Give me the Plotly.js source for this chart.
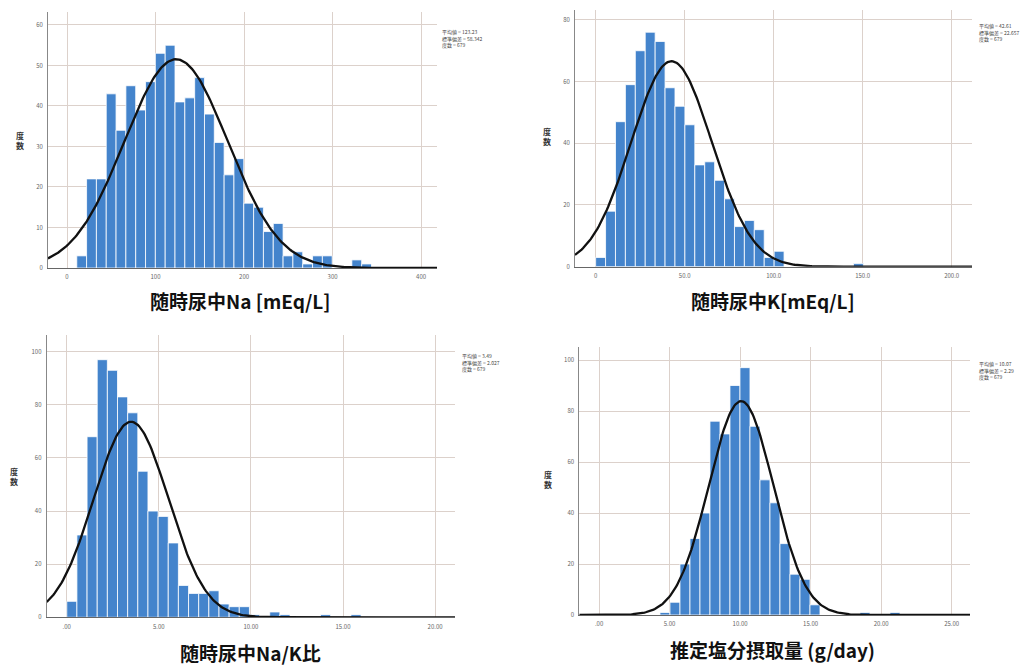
<!DOCTYPE html>
<html><head><meta charset="utf-8">
<script src="https://cdn.plot.ly/plotly-3.0.1.min.js"></script>
<style>html,body{margin:0;padding:0;background:#fff}#chart{width:1036px;height:666px}</style>
</head><body><div id="chart"></div>
<script>
// ---------- data ----------
const statLabels = ['平均値', '標準偏差', '度数'];

// 随時尿中Na
const naCounts = [3,22,22,43,34,45,39,46,53,55,41,42,47,38,31,23,27,16,15,9,11,3,4,1,3,3,0,0,2,1];
const naBin = [11, 11.1];            // [first bin edge, bin width]
const naStats = [123.23, 58.342, 679];
const naStatText = ['123.23', '58.342', '679'];
const naTicks = [0, 100, 200, 300, 400];
const naTickText = ['0', '100', '200', '300', '400'];
const naTitle = '随時尿中Na [mEq/L]';

// 随時尿中K
const kCounts = [3,18,47,59,70,76,73,58,52,46,33,34,28,22,13,15,12,3,5,0,0,0,0,0,0,0,1];
const kBin = [0, 5.57];
const kStats = [42.61, 22.657, 679];
const kStatText = ['42.61', '22.657', '679'];
const kTicks = [0, 50, 100, 150, 200];
const kTickText = ['0', '50.0', '100.0', '150.0', '200.0'];
const kTitle = '随時尿中K[mEq/L]';

// 随時尿中Na/K比
const nkCounts = [6,31,68,97,93,83,77,55,40,38,28,12,9,9,10,5,4,4,1,0,2,1,0,0,0,1,0,0,1];
const nkBin = [0, 0.551];
const nkStats = [3.49, 2.027, 679];
const nkStatText = ['3.49', '2.027', '679'];
const nkTicks = [0, 5, 10, 15, 20];
const nkTickText = ['.00', '5.00', '10.00', '15.00', '20.00'];
const nkTitle = '随時尿中Na/K比';

// 推定塩分摂取量
const saltCounts = [1,5,20,30,40,76,71,90,97,74,53,44,28,16,14,4,0,0,0,0,1,0,0,1];
const saltBin = [4.32, 0.709];
const saltStats = [10.07, 2.29, 679];
const saltStatText = ['10.07', '2.29', '679'];
const saltTicks = [0, 5, 10, 15, 20, 25];
const saltTickText = ['.00', '5.00', '10.00', '15.00', '20.00', '25.00'];
const saltTitle = '推定塩分摂取量 (g/day)';

const yTitle = '度<br>数';

// ---------- layout geometry (pixels in a 1036x666 page) ----------
const W = 1036, H = 666;
const panels = [
  {counts: naCounts, bin: naBin, stats: naStats, st: naStatText, tv: naTicks, tt: naTickText, title: naTitle,
   px: [48, 437], py: [12, 268], xr: [-21.5, 418], yr: [0, 63.2], dt: 10,
   titlePos: [240, 300], yTitlePos: [20, 140], statPos: [440, 26]},
  {counts: kCounts, bin: kBin, stats: kStats, st: kStatText, tv: kTicks, tt: kTickText, title: kTitle,
   px: [575, 972], py: [10, 266.7], xr: [-11.6, 211.4], yr: [0, 83.2], dt: 20,
   titlePos: [773, 300], yTitlePos: [547, 137], statPos: [977, 20]},
  {counts: nkCounts, bin: nkBin, stats: nkStats, st: nkStatText, tv: nkTicks, tt: nkTickText, title: nkTitle,
   px: [46.7, 455], py: [335, 617.3], xr: [-1.09, 21.08], yr: [0, 106.3], dt: 20,
   titlePos: [250, 652], yTitlePos: [14, 476], statPos: [460, 350]},
  {counts: saltCounts, bin: saltBin, stats: saltStats, st: saltStatText, tv: saltTicks, tt: saltTickText, title: saltTitle,
   px: [579.3, 970], py: [347, 615], xr: [-1.4, 26.3], yr: [0, 105.1], dt: 20,
   titlePos: [772, 649], yTitlePos: [548, 479], statPos: [977, 358]}
];

const FONT = '"Noto Sans CJK JP", "Noto Sans", sans-serif';
const BAR = 'rgb(68,132,204)';
const GRID = '#dcd1cb';

const traces = [];
const layout = {
  width: W, height: H, margin: {l: 0, r: 0, t: 0, b: 0},
  paper_bgcolor: '#fff', plot_bgcolor: '#fff', showlegend: false,
  font: {family: FONT}, annotations: []
};

panels.forEach((p, i) => {
  const s = i === 0 ? '' : String(i + 1);
  const xa = 'x' + s, ya = 'y' + s;
  const x0 = p.bin[0], w = p.bin[1];
  const centers = p.counts.map((_, k) => x0 + (k + 0.5) * w);
  traces.push({
    type: 'bar', x: centers, y: p.counts, width: w, xaxis: xa, yaxis: ya,
    marker: {color: BAR, line: {color: '#ffffff', width: 0.8}}, hoverinfo: 'x+y'
  });
  // normal curve from the stated mean / sd / n
  const mean = p.stats[0], sd = p.stats[1], n = p.stats[2];
  const cx = [], cy = [];
  const steps = 300;
  for (let k = 0; k <= steps; k++) {
    const x = p.xr[0] + (p.xr[1] - p.xr[0]) * k / steps;
    cx.push(x);
    cy.push(n * w / (sd * Math.sqrt(2 * Math.PI)) * Math.exp(-0.5 * Math.pow((x - mean) / sd, 2)));
  }
  traces.push({type: 'scatter', mode: 'lines', x: cx, y: cy, xaxis: xa, yaxis: ya,
    line: {color: '#111', width: 2.3}, hoverinfo: 'skip'});

  layout['xaxis' + s] = {
    domain: [p.px[0] / W, p.px[1] / W], range: p.xr, anchor: ya,
    tickvals: p.tv, ticktext: p.tt, ticks: '', ticklabelstandoff: 3,
    showgrid: true, gridcolor: GRID, gridwidth: 1, zeroline: false,
    showline: true, linecolor: '#666', linewidth: 1,
    tickfont: {size: 6, color: '#666', family: FONT}, fixedrange: true
  };
  layout['yaxis' + s] = {
    domain: [1 - p.py[1] / H, 1 - p.py[0] / H], range: p.yr, anchor: xa,
    dtick: p.dt, tick0: 0, ticks: '', ticklabelstandoff: 3,
    showgrid: true, gridcolor: GRID, gridwidth: 1, zeroline: false,
    showline: true, linecolor: '#888', linewidth: 1,
    tickfont: {size: 6, color: '#666', family: FONT}, fixedrange: true
  };
  layout.annotations.push({
    xref: 'paper', yref: 'paper', x: p.titlePos[0] / W, y: 1 - p.titlePos[1] / H,
    xanchor: 'center', yanchor: 'middle', showarrow: false,
    text: '<b>' + p.title + '</b>', font: {size: 19, color: '#111', family: FONT}
  });
  layout.annotations.push({
    xref: 'paper', yref: 'paper', x: p.yTitlePos[0] / W, y: 1 - p.yTitlePos[1] / H,
    xanchor: 'center', yanchor: 'middle', showarrow: false,
    text: '<b>' + yTitle + '</b>', font: {size: 8, color: '#333', family: FONT}
  });
  layout.annotations.push({
    xref: 'paper', yref: 'paper', x: p.statPos[0] / W, y: 1 - p.statPos[1] / H,
    xanchor: 'left', yanchor: 'top', showarrow: false, align: 'left',
    text: statLabels.map((l, k) => l + ' = ' + p.st[k]).join('<br>'),
    font: {size: 5, color: '#444', family: FONT}
  });
});

Plotly.newPlot('chart', traces, layout, {displayModeBar: false, staticPlot: true});
</script>
</body></html>
